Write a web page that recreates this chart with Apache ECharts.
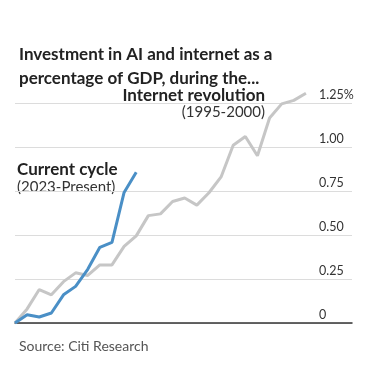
<!DOCTYPE html>
<html>
<head>
<meta charset="utf-8">
<script src="https://cdn.jsdelivr.net/npm/echarts@6/dist/echarts.min.js"></script>
<style>
html,body{margin:0;padding:0;background:#fff;}
#c{width:366px;height:386px;}
</style>
</head>
<body>
<div id="c"></div>
<script>
// Quarterly investment as % of GDP, from start of each cycle
const internetValues = [0, 0.08, 0.19, 0.16, 0.235, 0.285, 0.27, 0.33, 0.33, 0.435, 0.495, 0.61, 0.62, 0.69, 0.71, 0.67, 0.74, 0.83, 1.01, 1.06, 0.95, 1.165, 1.245, 1.265, 1.305];
const aiValues = [0, 0.047, 0.034, 0.057, 0.16, 0.208, 0.305, 0.43, 0.458, 0.742, 0.856];
const yTicks = [0, 0.25, 0.5, 0.75, 1.0, 1.25];

const titleText = 'Investment in AI and internet as a\npercentage of GDP, during the...';
const sourceText = 'Source: Citi Research';

const chart = echarts.init(document.getElementById('c'), null, {renderer: 'canvas'});
const FONT = 'Lato';

const toPairs = arr => arr.map((v, i) => [i, v]);

chart.setOption({
  backgroundColor: '#fff',
  animation: false,
  title: [{
    text: titleText,
    left: 14, top: 38,
    textStyle: {fontFamily: FONT, fontWeight: 'bold', fontSize: 17, lineHeight: 24, color: '#222'}
  }, {
    text: sourceText,
    left: 14, top: 334,
    textStyle: {fontFamily: FONT, fontWeight: 'normal', fontSize: 14, color: '#555'}
  }],
  grid: {left: 15, right: 14, top: 103, bottom: 63},
  xAxis: {
    type: 'value', min: 0, max: 27.8,
    axisLine: {show: true, onZero: false, lineStyle: {color: '#333', width: 1.5}},
    axisTick: {show: false}, axisLabel: {show: false}, splitLine: {show: false}
  },
  yAxis: {
    type: 'value', position: 'right', min: 0, max: 1.25, interval: 0.25,
    axisLine: {show: false}, axisTick: {show: false},
    splitLine: {show: true, lineStyle: {color: '#dcdcdc', width: 1}},
    axisLabel: {
      inside: true, margin: 33, align: 'left', verticalAlign: 'bottom',
      padding: [0, 0, 2, 0],
      fontFamily: FONT, fontSize: 12.5, color: '#333',
      customValues: yTicks,
      formatter: v => v === 0 ? '0' : (Math.abs(v - 1.25) < 1e-9 ? v.toFixed(2) + '%' : v.toFixed(2))
    }
  },
  graphic: [
    {type: 'text', right: 101, top: 87, style: {text: 'Internet revolution', fontFamily: FONT, fontWeight: 'bold', fontSize: 17, fill: '#222'}},
    {type: 'text', right: 101, top: 105, style: {text: '(1995-2000)', fontFamily: FONT, fontSize: 15, fill: '#333'}},
    {type: 'text', left: 17, top: 161, style: {text: 'Current cycle', fontFamily: FONT, fontWeight: 'bold', fontSize: 17, fill: '#222'}},
    {type: 'text', left: 17, top: 180, style: {text: '(2023-Present)', fontFamily: FONT, fontSize: 15, fill: '#333'}}
  ],
  series: [{
    type: 'line', data: toPairs(internetValues), symbol: 'none', clip: false,
    lineStyle: {color: '#c6c6c6', width: 3}, z: 2
  }, {
    type: 'line', data: toPairs(aiValues), symbol: 'none', clip: false,
    lineStyle: {color: '#4a8fc6', width: 3}, z: 3
  }]
});
</script>
</body>
</html>
